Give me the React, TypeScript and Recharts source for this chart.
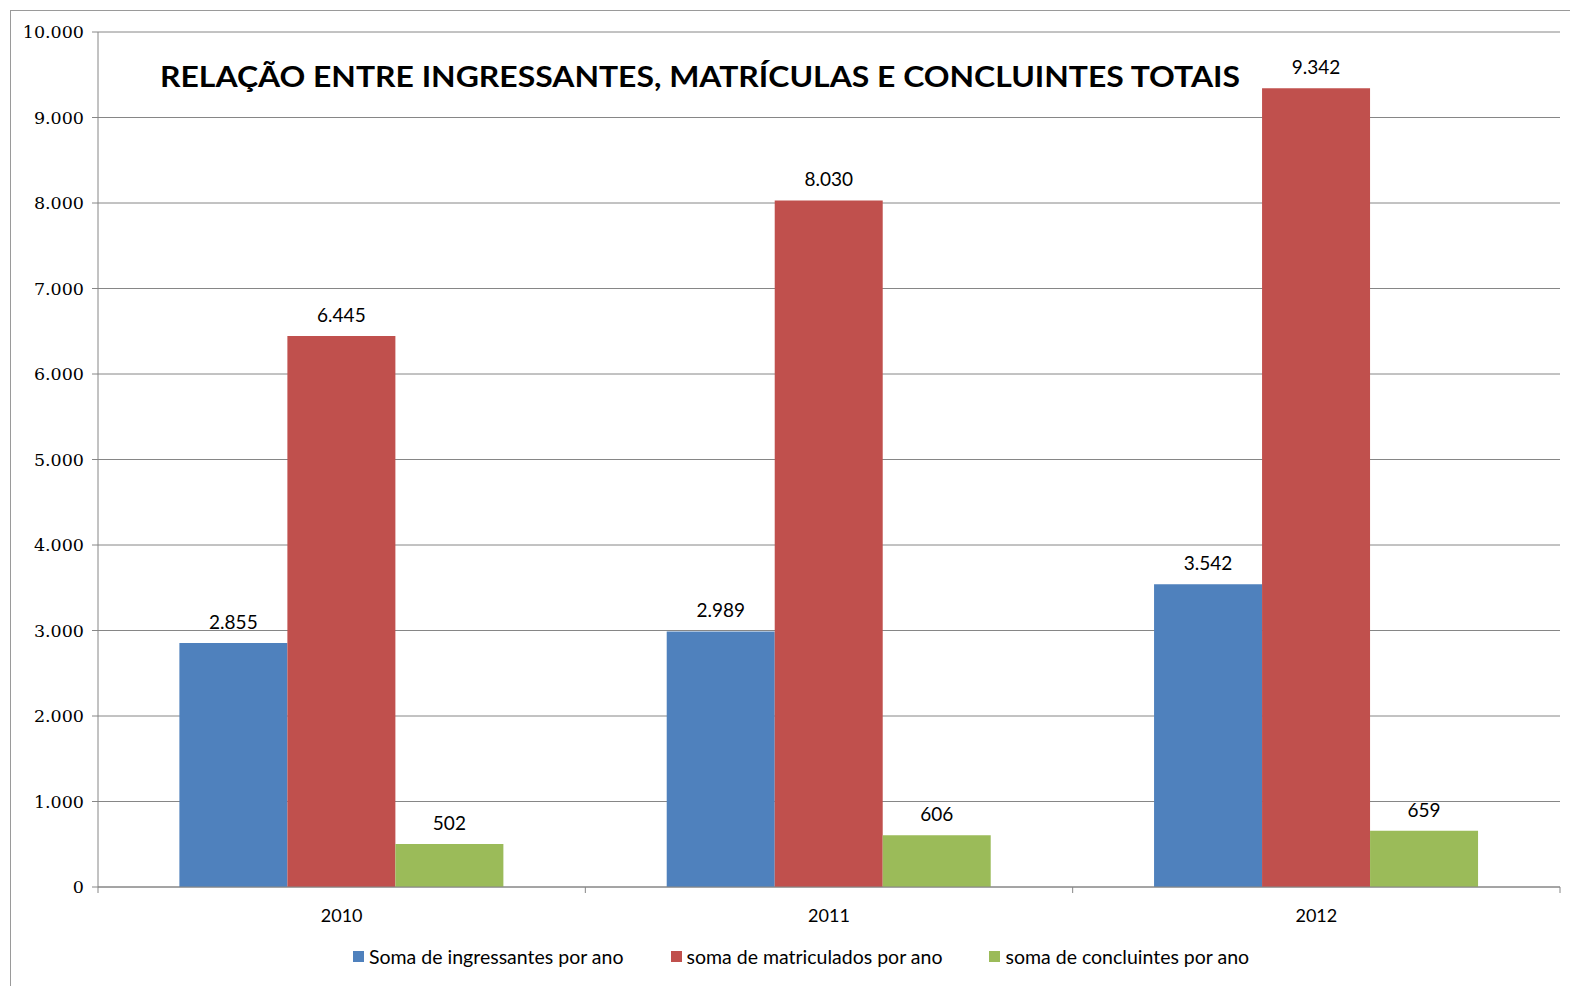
import React from 'react'
import { Bar, BarChart, CartesianGrid, LabelList, XAxis, YAxis } from 'recharts'

const years = ['2010', '2011', '2012']
const ingressantes = [2855, 2989, 3542]
const matriculados = [6445, 8030, 9342]
const concluintes = [502, 606, 659]
const yTicks = [0, 1000, 2000, 3000, 4000, 5000, 6000, 7000, 8000, 9000, 10000]

const SERIES = [
    { key: 'ingressantes', name: 'Soma de ingressantes por ano', color: '#4F81BD' },
    { key: 'matriculados', name: 'soma de matriculados por ano', color: '#C0504D' },
    { key: 'concluintes', name: 'soma de concluintes por ano', color: '#9BBB59' },
]

const TITLE = 'RELAÇÃO ENTRE INGRESSANTES, MATRÍCULAS E CONCLUINTES TOTAIS'

const data = years.map((year, i) => ({
    year,
    ingressantes: ingressantes[i],
    matriculados: matriculados[i],
    concluintes: concluintes[i],
}))

const W = 1570
const H = 986
const MARGIN = { top: 32, right: 10, left: 18, bottom: 69 }
const Y_WIDTH = 80
const PLOT_W = W - MARGIN.left - Y_WIDTH - MARGIN.right
const AXIS_GRAY = '#868686'

const fmt = (v: any) => String(v).replace(/\B(?=(\d{3})+(?!\d))/g, '.')

const XTick = (props: any) => {
    const { x, y, payload, index } = props
    const half = PLOT_W / years.length / 2
    return (
        <g>
            <line x1={x - half} x2={x - half} y1={y - 8} y2={y - 2} stroke={AXIS_GRAY} />
            {index === years.length - 1 && (
                <line x1={x + half} x2={x + half} y1={y - 8} y2={y - 2} stroke={AXIS_GRAY} />
            )}
            <text x={x} y={y + 27} textAnchor="middle" fontFamily="Lato" fontSize={18} fill="#000">
                {payload.value}
            </text>
        </g>
    )
}

const App: React.FC = () => {
    return (
        <div style={{ position: 'absolute', left: 0, top: 0, width: W, height: H, background: '#fff', overflow: 'hidden' }}>
            <div style={{ position: 'absolute', left: 10, top: 10, width: W, height: H, borderLeft: '1px solid #9a9a9a', borderTop: '1px solid #9a9a9a' }} />
            <div style={{ position: 'absolute', left: 0, top: 0 }}>
                <BarChart width={W} height={H} data={data} margin={MARGIN} barGap={0} barCategoryGap="16.7%">
                    <CartesianGrid vertical={false} stroke={AXIS_GRAY} />
                    <XAxis
                        dataKey="year"
                        stroke={AXIS_GRAY}
                        tickLine={false}
                        tick={<XTick />}
                        height={30}
                        interval={0}
                    />
                    <YAxis
                        width={Y_WIDTH}
                        domain={[0, 10000]}
                        ticks={yTicks}
                        interval={0}
                        stroke={AXIS_GRAY}
                        tickSize={6}
                        tickMargin={8}
                        tickFormatter={fmt}
                        tick={{ fill: '#000', fontFamily: 'DejaVu Serif', fontSize: 17.5 }}
                    />
                    {SERIES.map((s) => (
                        <Bar key={s.key} dataKey={s.key} name={s.name} fill={s.color} isAnimationActive={false}>
                            <LabelList
                                dataKey={s.key}
                                position="top"
                                offset={14}
                                formatter={fmt}
                                fill="#000"
                                fontFamily="Lato"
                                fontSize={19}
                            />
                        </Bar>
                    ))}
                </BarChart>
            </div>
            <svg width={W} height={120} style={{ position: 'absolute', left: 0, top: 40 }}>
                <text
                    x={160}
                    y={47}
                    fontFamily="Lato"
                    fontWeight="bold"
                    fontSize={28}
                    fill="#000"
                    textLength={1080}
                    lengthAdjust="spacingAndGlyphs"
                >
                    {TITLE}
                </text>
            </svg>
            <div style={{ position: 'absolute', left: 353, top: 945, display: 'flex', alignItems: 'center', fontFamily: 'Lato', fontSize: 19.5, color: '#000', whiteSpace: 'nowrap' }}>
                {SERIES.map((s, i) => (
                    <div key={s.key} style={{ display: 'flex', alignItems: 'center', marginRight: i < SERIES.length - 1 ? 47 : 0 }}>
                        <span style={{ display: 'inline-block', width: 11, height: 11, background: s.color, marginRight: 5 }} />
                        <span>{s.name}</span>
                    </div>
                ))}
            </div>
        </div>
    )
}

export default App
